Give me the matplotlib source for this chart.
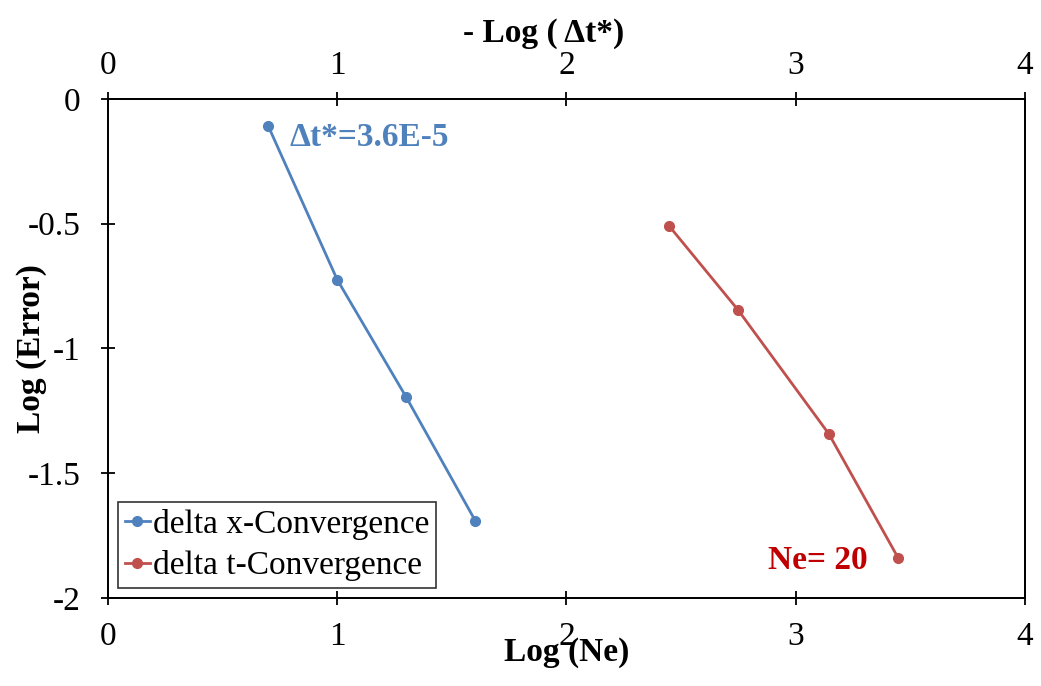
import matplotlib
matplotlib.use("Agg")
import matplotlib.pyplot as plt

# data
log_ne = [0.699, 1.0, 1.301, 1.602]
err_x = [-0.108, -0.724, -1.195, -1.690]
log_dt = [2.447, 2.748, 3.145, 3.446]
err_t = [-0.508, -0.845, -1.343, -1.838]

blue = "#4F81BD"
red = "#C0504D"

plt.rcParams['font.family'] = ['Liberation Serif', 'DejaVu Serif']

fig = plt.figure(figsize=(10.41, 6.86), dpi=100)
ax = fig.add_axes([0.1037, 0.1283, 0.8809, 0.7274])
ax2 = ax.twiny()

l1, = ax.plot(log_ne, err_x, color=blue, lw=2.0, marker="o", ms=7, label="delta x-Convergence")
l2, = ax2.plot(log_dt, err_t, color=red, lw=2.0, marker="o", ms=7, label="delta t-Convergence")

for a in (ax, ax2):
    a.set_xlim(0, 4)
    a.set_xticks([0, 1, 2, 3, 4])
    a.tick_params(direction="inout", length=10, width=1.3, labelsize=24)
    for s in a.spines.values():
        s.set_linewidth(1.3)
ax.set_ylim(-2, 0)
ax.set_yticks([0, -0.5, -1, -1.5, -2])
ax.set_yticklabels(["0", "-0.5", "-1", "-1.5", "-2"])
ax.tick_params(axis="x", pad=12)
ax.tick_params(axis="y", pad=15)
ax2.tick_params(axis="x", pad=8)

ax.set_xlabel("Log (Ne)", fontsize=24, fontweight="bold")
ax.xaxis.set_label_coords(0.5, -0.078)
ax.set_ylabel("Log (Error)", fontsize=24, fontweight="bold")
ax.yaxis.set_label_coords(-0.0665, 0.5)
ax2.set_xlabel("- Log ( \u0394t*)", fontsize=24, fontweight="bold")
ax2.xaxis.set_label_coords(0.475, 1.114)

ax.text(0.794, -0.156, "\u0394t*=3.6E-5", color=blue, fontsize=24, fontweight="bold", va="center")
ax.text(2.879, -1.848, "Ne= 20", color="#C00000", fontsize=24, fontweight="bold", va="center")

leg = ax.legend(handles=[l1, l2], loc="lower left", bbox_to_anchor=(0.011, 0.02), fontsize=24,
                frameon=True, fancybox=False, edgecolor="black", handlelength=0.75,
                handletextpad=0.1, borderpad=0.2, labelspacing=0.32, borderaxespad=0)
leg.get_frame().set_linewidth(1.2)

fig.savefig("out.png", dpi=100)
